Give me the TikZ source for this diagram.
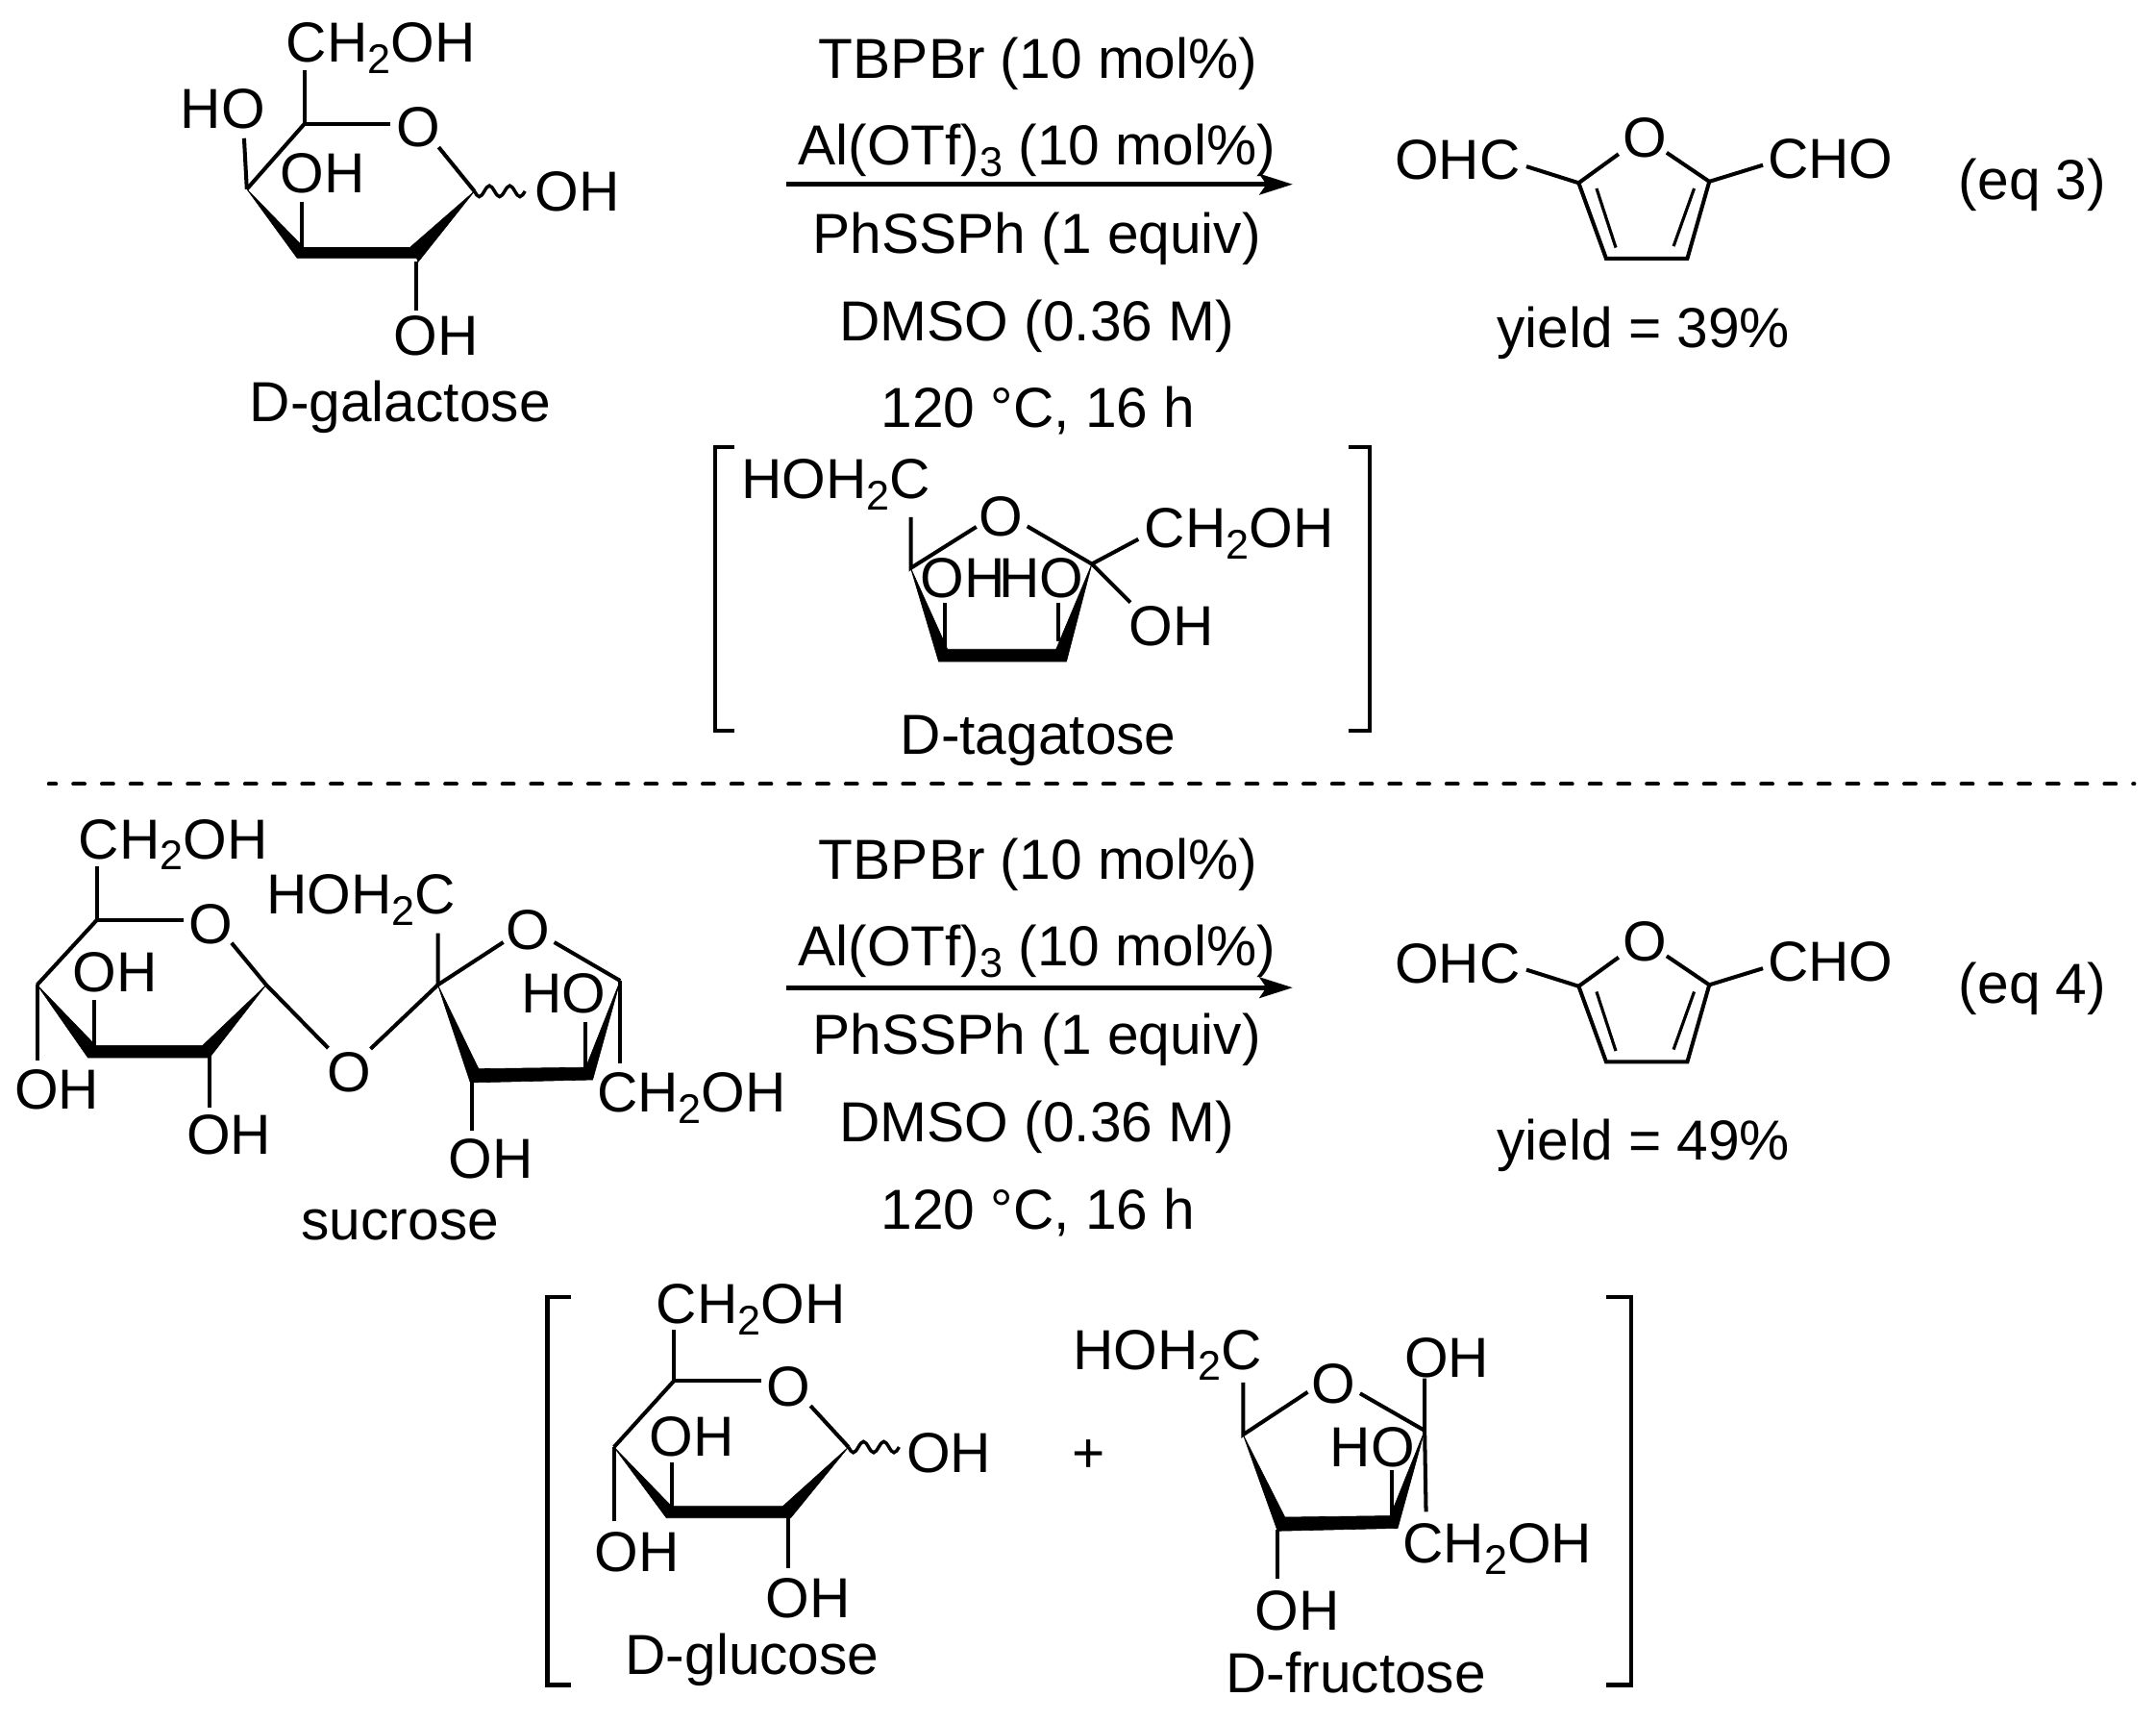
\documentclass[tikz,border=0pt]{standalone}
\usepackage{fontspec}
\setmainfont{Liberation Sans}
\usetikzlibrary{arrows.meta}
\newcommand{\chemsubs}[1]{\raisebox{-0.2em}{\fontsize{30}{30}\selectfont #1}}
\newcommand{\chtwo}{CH\chemsubs{2}OH}
\newcommand{\hohc}{HOH\chemsubs{2}C}
\newcommand{\wavebond}[1]{\draw[wavy] (#1) sin ++(3.5,4) cos ++(3.7,-4) sin ++(3.7,-4) cos ++(3.7,4) sin ++(3.7,4) cos ++(3.7,-4) sin ++(3.7,-4) cos ++(3.7,4) sin ++(3.7,4) cos ++(3.7,-4);}
\tikzset{
  lab/.style={anchor=base,inner sep=0pt,outer sep=0pt,yshift=-14.3pt,font=\fontsize{40.8}{48}\selectfont},
  bond/.style={line width=2.8pt,line cap=butt,line join=miter},
  bold/.style={fill=black,draw=black,line width=0.4pt,line join=miter},
  wavy/.style={line width=2.4pt},
  brack/.style={line width=3pt,line join=miter},
  rarrow/.style={line width=3.2pt,-{Stealth[length=24pt,width=15pt,inset=5pt]}},
  sep/.style={line width=2.8pt,line cap=round,dash pattern=on 8.2pt off 12.5pt,dash phase=3pt}
}
\newcommand{\furanprod}[4]{%
\begin{scope}[shift={(0,#2)}]
  \node[lab] (#1O) at (1196,100) {O};
  \node[lab] (#1OHC) at (1060,116) {OHC};
  \node[lab] (#1CHO) at (1331,115) {CHO};
  \coordinate (#1a) at (1148,133);
  \coordinate (#1b) at (1243,132);
  \coordinate (#1c) at (1168,188);
  \coordinate (#1d) at (1227,188);
  \draw[bond] (1177,112) -- (#1a) -- (#1c) -- (#1d) -- (#1b) -- (1212,111);
  \draw[bond] (1110,121) -- (#1a);
  \draw[bond] (1282,120) -- (#1b);
  \draw[bond,line width=2.2pt] (1161,137) -- (1175,180);
  \draw[bond,line width=2.2pt] (1232,137) -- (1217,179);
  \node[lab] (#1eq) at (1478,131) {(eq #3)};
  \coordinate (#1s) at (572,134);
  \coordinate (#1e) at (940,134);
  \draw[rarrow] (#1s) -- (#1e);
  \begin{scope}[shift={(0,#4)}]
  \node[lab] (#1r1) at (755,43) {TBPBr (10 mol\%)};
  \node[lab] (#1r2) at (754,106) {Al(OTf)\chemsubs{3} (10 mol\%)};
  \node[lab] (#1r3) at (754,170) {PhSSPh (1 equiv)};
  \node[lab] (#1r4) at (754,234) {DMSO (0.36 M)};
  \node[lab] (#1r5) at (755,297) {120 °C, 16 h};
  \end{scope}
\end{scope}}
\begin{document}
\begin{tikzpicture}[x=0.995pt,y=-0.995pt]
\useasboundingbox (0,0) rectangle (1567.84,1251.26);
\fill[white] (0,0) rectangle (1567.84,1251.26);

% ---------- D-galactose ----------
\coordinate (g5) at (221.4,90);
\coordinate (g1) at (345,139);
\coordinate (g4) at (179.5,137.5);
\node[lab] (gC) at (277,31) {\chtwo};
\node[lab] (gHO) at (162,79) {HO};
\node[lab] (gO) at (304,92) {O};
\node[lab] (gOHi) at (234.6,126) {OH};
\node[lab] (gOHr) at (420,139) {OH};
\node[lab] (gOHb) at (317,244) {OH};
\node[lab] (gname) at (291,292) {D-galactose};
\draw[bold] (g4) -- (221,180) -- (298,180) -- (g1) -- (304,190.5) -- (303,187.5) -- (216,187.5) -- cycle;
\draw[bond] (221.4,51) -- (g5) -- (284,90);
\draw[bond] (g4) -- (g5);
\draw[bond] (319,107) -- (g1);
\draw[bond] (177.5,100.5) -- (g4);
\draw[bond] (219.7,147) -- (219.7,181);
\draw[bond] (302.8,190) -- (302.8,226);
\wavebond{g1}

% ---------- first scheme ----------
\furanprod{p}{0}{3}{-0.5}
\node[lab] (py) at (1195,238) {yield = 39\%};

% ---------- D-tagatose ----------
\draw[brack] (534,325) -- (520,325) -- (520,531) -- (534,531);
\draw[brack] (981,325) -- (996,325) -- (996,531) -- (981,531);
\coordinate (tl) at (662.3,413);
\coordinate (tr) at (794,410);
\node[lab] (tA) at (608,348) {\hohc};
\node[lab] (tO) at (728,375) {O};
\node[lab] (tB) at (901,384) {\chtwo};
\node[lab] (tOHr) at (852,455) {OH};
\node[lab] (tOHi) at (700,420) {OH};
\node[lab] (tHOi) at (757,420) {HO};
\node[lab] (tname) at (755,534) {D-tagatose};
\draw[bold] (tl) -- (689,472) -- (768,472) -- (tr) -- (775.5,481) -- (682.6,481) -- cycle;
\draw[bond] (662.3,376) -- (tl) -- (710,383);
\draw[bond] (747,382.6) -- (tr);
\draw[bond] (827.8,392) -- (tr) -- (822,438);
\draw[bond] (686.8,438.5) -- (686.8,473);
\draw[bond] (769.7,438) -- (769.7,466);

% ---------- separator ----------
\coordinate (sepa) at (35.5,570);
\coordinate (sepb) at (1552,570);
\draw[sep] (sepa) -- (sepb);

% ---------- sucrose ----------
\coordinate (s5) at (70.3,669);
\coordinate (s1) at (193.6,716);
\coordinate (s4) at (27,716);
\coordinate (f2) at (318.4,716);
\coordinate (f5) at (451,713);
\node[lab] (sC) at (126,610) {\chtwo};
\node[lab] (sO) at (153,672) {O};
\node[lab] (sOHi) at (83.5,706.5) {OH};
\node[lab] (sOHl) at (41.4,792) {OH};
\node[lab] (sOHb) at (166.5,825) {OH};
\node[lab] (sOl) at (253.8,779) {O};
\node[lab] (fA) at (262.5,650) {\hohc};
\node[lab] (fO) at (384,676) {O};
\node[lab] (fHO) at (410,722) {HO};
\node[lab] (fB) at (503,794) {\chtwo};
\node[lab] (fOHb) at (357,842) {OH};
\node[lab] (sname) at (291,887) {sucrose};
\draw[bold] (s4) -- (69.5,760) -- (147.4,760) -- (s1) -- (152.3,769) -- (64,769) -- cycle;
\draw[bold] (f2) -- (348,777) -- (426,776) -- (f5) -- (431,785) -- (342,787) -- cycle;
\draw[bond] (70.3,630) -- (s5) -- (133.5,669);
\draw[bond] (s4) -- (s5);
\draw[bond] (168.4,685.5) -- (s1) -- (238.7,762);
\draw[bond] (269.5,762.5) -- (f2);
\draw[bond] (318.4,678.4) -- (f2) -- (366,685);
\draw[bond] (403,685) -- (f5);
\draw[bond] (27,716) -- (27,771);
\draw[bond] (68.8,727) -- (68.8,761);
\draw[bond] (152.3,766) -- (152.3,805);
\draw[bond] (343,786) -- (343,822);
\draw[bond] (426,743) -- (426,777);
\draw[bond] (451,713) -- (451,773);

\furanprod{q}{584}{4}{-2}
\node[lab] (qy) at (1195,829) {yield = 49\%};

% ---------- bracket, lower ----------
\draw[brack] (415,943) -- (398,943) -- (398,1225) -- (415,1225);
\draw[brack] (1168,943) -- (1186,943) -- (1186,1225) -- (1168,1225);

% ---------- D-glucose ----------
\coordinate (h5) at (490,1004);
\coordinate (h1) at (617,1052);
\coordinate (h4) at (446.5,1052);
\node[lab] (hC) at (546,948) {\chtwo};
\node[lab] (hO) at (573.5,1008) {O};
\node[lab] (hOHi) at (503,1044) {OH};
\node[lab] (hOHl) at (463,1128) {OH};
\node[lab] (hOHb) at (587.8,1162) {OH};
\node[lab] (hOHr) at (690,1056) {OH};
\node[lab] (plus) at (791.5,1056) {+};
\node[lab] (hname) at (547,1203) {D-glucose};
\draw[bold] (h4) -- (488.3,1095) -- (569.3,1095) -- (h1) -- (575,1103.5) -- (484.6,1103.5) -- cycle;
\draw[bond] (490,967) -- (h5) -- (553.4,1004);
\draw[bond] (h4) -- (h5);
\draw[bond] (589.4,1022) -- (h1);
\draw[bond] (446.5,1052) -- (446.5,1106);
\draw[bond] (488.3,1063) -- (488.3,1096);
\draw[bond] (573,1103) -- (573,1140);
\wavebond{h1}

% ---------- D-fructose ----------
\coordinate (k5) at (904,1043);
\coordinate (k2) at (1036,1040);
\node[lab] (kA) at (849,981) {\hohc};
\node[lab] (kO) at (970,1006) {O};
\node[lab] (kOHt) at (1052,987) {OH};
\node[lab] (kHO) at (998,1052) {HO};
\node[lab] (kB) at (1089,1122) {\chtwo};
\node[lab] (kOHb) at (943.4,1171) {OH};
\node[lab] (kname) at (986,1216) {D-fructose};
\draw[bold] (k5) -- (934.4,1103) -- (1011,1102) -- (k2) -- (1016.4,1111) -- (929,1113) -- cycle;
\draw[bond] (904,1005) -- (k5) -- (951,1012);
\draw[bond] (989,1013) -- (k2);
\draw[bond] (1036,1002) -- (k2) -- (1037,1099);
\draw[bond] (1012,1069) -- (1012,1102);
\draw[bond] (929,1112) -- (929,1148);
\end{tikzpicture}
\end{document}
